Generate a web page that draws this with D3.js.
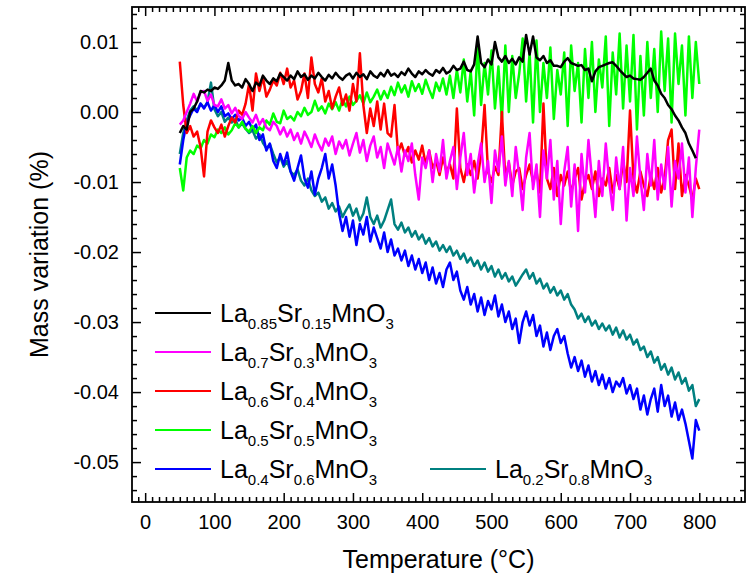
<!DOCTYPE html>
<html>
<head>
<meta charset="utf-8">
<script src="https://cdn.jsdelivr.net/npm/d3@7.9.0/dist/d3.min.js"></script>
<style>
  body { margin: 0; background: #fff; }
  svg { display: block; }
  text { font-family: "Liberation Sans", Arial, sans-serif; fill: #000; }
</style>
</head>
<body>
<div id="chart"></div>
<script>
// Temperature grid (°C): first sample and spacing
const tStart = 50, tStep = 5;

// Mass variation, in units of 1e-4 %
const lsm15 = [
  -30,-20,-25,0,5,15,30,28,32,30,
  35,33,38,45,70,45,38,40,35,47,
  40,30,42,38,52,45,40,48,44,55,
  50,45,52,47,58,50,54,46,52,48,
  56,50,45,53,48,56,50,46,52,55,
  48,56,50,54,47,58,52,49,56,51,
  60,52,55,50,57,53,62,55,50,58,
  54,60,55,52,60,56,63,55,58,66,
  60,62,72,60,58,68,108,70,64,75,
  68,100,78,72,80,70,76,68,78,72,
  110,82,108,78,74,80,70,74,66,66,
  64,72,77,70,68,66,67,60,62,44,
  58,64,66,68,70,71,66,60,55,50,
  52,48,47,46,50,56,62,45,38,26,
  20,10,4,-5,-12,-22,-30,-45,-55,-66
];
const lsm30 = [
  -18,-12,0,12,26,15,28,30,16,25,
  10,8,18,5,10,-2,6,-5,-10,0,
  -8,-15,-4,-18,-10,-22,-26,-14,-20,-32,
  -22,-35,-25,-40,-30,-45,-28,-38,-50,-32,
  -45,-55,-38,-48,-35,-60,-42,-52,-40,-62,
  -45,-30,-58,-40,-70,-48,-35,-65,-50,-80,
  -45,-60,-75,-50,-85,-55,-70,-45,-90,-125,
  -65,-80,-55,-100,-60,-85,-40,-95,-70,-50,
  -110,-65,-30,-90,-60,-115,-75,-45,-100,-70,
  -130,-55,-85,-35,-105,-70,-120,-50,-90,-140,
  -65,-30,-110,-75,-150,-55,-95,-40,-125,-70,
  -160,-85,-50,-135,-75,-170,-60,-115,-40,-95,
  -150,-70,-120,-45,-100,-140,-65,-110,-50,-155,
  -80,-120,-35,-95,-140,-60,-105,-40,-125,-75,
  -110,-50,-135,-70,-95,-45,-115,-65,-150,-80,
  -25
];
const lsm40 = [
  72,10,-30,-20,-35,-28,-50,-92,-28,-12,
  -22,-30,-18,-35,-20,-8,-15,2,-4,12,
  40,2,55,30,50,22,32,45,38,56,
  40,62,35,45,18,30,55,20,78,40,
  28,48,15,30,5,22,35,10,25,2,
  40,15,84,10,-30,5,-20,15,-25,12,
  -30,-35,10,-58,-45,-62,-50,-72,-55,-68,
  -48,-75,-55,-80,-70,-90,-65,-85,-75,-95,
  5,-80,-100,-75,-90,-70,-95,-60,10,-85,
  -100,-78,-90,0,-95,-72,-105,-85,-80,-110,
  -90,-75,-100,-85,-115,12,-95,-110,-80,-120,
  -90,-105,-85,-115,-95,-80,-125,-100,-90,-110,
  -85,-120,-95,-105,-80,-115,-90,-110,-70,-100,
  2,-95,-115,-85,-105,-120,-90,-110,-80,-115,
  -95,-40,-25,-110,-45,-120,-90,-105,-125,-95,
  -110
];
const lsm50 = [
  -80,-112,-65,-55,-60,-48,-52,-40,-45,-32,
  -36,-25,-30,-22,-32,-26,-16,-22,-14,-24,
  -28,-20,-30,-22,-26,-12,-18,-2,-14,-16,
  2,-10,-6,-12,0,-6,6,-4,0,16,
  2,8,-2,12,4,14,2,18,8,22,
  10,16,24,12,28,14,22,32,18,30,
  20,36,24,42,28,38,22,44,30,40,
  26,46,32,20,42,30,48,25,52,20,
  60,28,75,15,58,-5,95,10,70,25,
  88,5,65,-12,95,0,80,20,55,105,
  15,85,-15,102,0,70,20,92,-10,60,
  25,85,-20,95,30,70,-15,90,20,100,
  0,75,35,108,-20,85,25,112,5,95,
  15,110,-25,80,-5,100,20,90,0,115,
  30,105,-15,112,40,95,-5,108,20,100,
  40
];
const lsm60 = [
  -75,-40,-15,-5,5,0,12,5,14,2,
  10,0,8,-6,-2,-10,-4,-12,-8,-20,
  -14,-25,-18,-40,-32,-55,-45,-70,-80,-60,
  -75,-58,-85,-98,-80,-62,-95,-108,-85,-118,
  -95,-80,-60,-95,-75,-105,-145,-170,-150,-178,
  -155,-190,-160,-175,-150,-185,-165,-180,-195,-172,
  -200,-182,-205,-195,-212,-198,-220,-205,-225,-210,
  -230,-215,-240,-222,-245,-230,-250,-225,-215,-240,
  -228,-255,-268,-250,-275,-260,-285,-265,-290,-270,
  -282,-262,-292,-275,-300,-285,-310,-295,-330,-300,
  -285,-305,-290,-320,-305,-335,-315,-340,-320,-310,
  -330,-320,-345,-365,-350,-370,-355,-378,-362,-385,
  -370,-390,-375,-395,-380,-400,-385,-392,-380,-402,
  -390,-410,-395,-425,-405,-432,-410,-395,-428,-390,
  -420,-405,-435,-415,-440,-425,-445,-470,-495,-440,
  -455
];
const lsm80 = [
  -60,-30,-12,2,8,2,12,6,14,42,
  4,-6,0,-14,-8,-15,-10,-22,-16,-24,
  -30,-26,-38,-32,-44,-52,-46,-60,-72,-64,
  -78,-70,-85,-90,-82,-98,-105,-95,-112,-120,
  -115,-128,-122,-138,-130,-142,-135,-150,-140,-132,
  -148,-138,-155,-145,-122,-150,-160,-148,-165,-155,
  -140,-125,-160,-168,-158,-172,-165,-178,-170,-182,
  -175,-188,-180,-192,-185,-198,-190,-200,-192,-205,
  -198,-210,-202,-215,-208,-220,-212,-225,-215,-228,
  -220,-235,-225,-238,-230,-242,-235,-248,-240,-232,
  -225,-238,-230,-245,-238,-252,-245,-258,-250,-262,
  -255,-268,-260,-275,-282,-295,-288,-300,-292,-305,
  -298,-310,-302,-312,-305,-318,-308,-322,-312,-325,
  -318,-332,-325,-340,-335,-350,-342,-358,-350,-368,
  -360,-375,-365,-382,-372,-388,-380,-398,-390,-420,
  -410
];

const laSub = ['0.85', '0.7', '0.6', '0.5', '0.4', '0.2'];
const srSub = ['0.15', '0.3', '0.4', '0.5', '0.6', '0.8'];
const colors = ['#000000', '#ff00ff', '#ff0000', '#00ff00', '#0000ff', '#008080'];
const series = [lsm15, lsm30, lsm40, lsm50, lsm60, lsm80];

const xMajor = [0, 100, 200, 300, 400, 500, 600, 700, 800];
const yMajor = [0.01, 0, -0.01, -0.02, -0.03, -0.04, -0.05];
const yLabels = ['0.01', '0.00', '-0.01', '-0.02', '-0.03', '-0.04', '-0.05'];

const width = 750, height = 576;
const margin = { top: 7, right: 5, bottom: 74, left: 132 };

const svg = d3.select('#chart').append('svg')
  .attr('width', width).attr('height', height);

const x = d3.scaleLinear().domain([-19, 866]).range([margin.left, width - margin.right]);
const y = d3.scaleLinear().domain([-0.0557, 0.015]).range([height - margin.bottom, margin.top]);

const xMinor = d3.range(-10, 866, 10).filter(d => d % 100 !== 0);
const yMinor = d3.range(-0.054, 0.0145, 0.002).filter(d => Math.abs(Math.round(d * 100) - d * 100) > 1e-6);

svg.append('defs').append('clipPath').attr('id', 'plot')
  .append('rect')
  .attr('x', margin.left).attr('y', margin.top)
  .attr('width', width - margin.left - margin.right)
  .attr('height', height - margin.top - margin.bottom);

// Curves: teal drawn first, black on top
const line = d3.line()
  .x((d, i) => x(tStart + i * tStep))
  .y(d => y(d / 10000));

const curves = svg.append('g').attr('clip-path', 'url(#plot)');
d3.range(series.length).reverse().forEach(k => {
  curves.append('path')
    .datum(series[k])
    .attr('d', line)
    .attr('fill', 'none')
    .attr('stroke', colors[k])
    .attr('stroke-width', 2.5)
    .attr('stroke-linejoin', 'round');
});

// Axes, ticks pointing inward on all four sides
const axisY0 = height - margin.bottom, axisX0 = margin.left;
const axisX1 = width - margin.right, axisY1 = margin.top;

function ticks(axis, transform, values, size, fmt) {
  const g = svg.append('g').attr('transform', transform)
    .call(axis.tickValues(values).tickSizeInner(-size).tickSizeOuter(0)
      .tickPadding(13).tickFormat(fmt));
  g.select('.domain').remove();
  g.selectAll('line').attr('stroke', '#000').attr('stroke-width', 1.5);
  g.selectAll('text').attr('font-size', 20)
    .attr('font-family', '"Liberation Sans", Arial, sans-serif');
  return g;
}

ticks(d3.axisBottom(x), `translate(0,${axisY0})`, xMajor, 9, d => d);
ticks(d3.axisBottom(x), `translate(0,${axisY0})`, xMinor, 5, '');
ticks(d3.axisTop(x), `translate(0,${axisY1})`, xMajor, 9, '');
ticks(d3.axisTop(x), `translate(0,${axisY1})`, xMinor, 5, '');
ticks(d3.axisLeft(y), `translate(${axisX0},0)`, yMajor, 9, (d, i) => yLabels[i]);
ticks(d3.axisLeft(y), `translate(${axisX0},0)`, yMinor, 5, '');
ticks(d3.axisRight(y), `translate(${axisX1},0)`, yMajor, 9, '');
ticks(d3.axisRight(y), `translate(${axisX1},0)`, yMinor, 5, '');

svg.append('rect')
  .attr('x', axisX0).attr('y', axisY1)
  .attr('width', axisX1 - axisX0).attr('height', axisY0 - axisY1)
  .attr('fill', 'none').attr('stroke', '#000').attr('stroke-width', 1.8);

// Axis titles
svg.append('text')
  .attr('x', (axisX0 + axisX1) / 2).attr('y', 568)
  .attr('text-anchor', 'middle').attr('font-size', 25)
  .text('Temperature (°C)');

svg.append('text')
  .attr('transform', `translate(48,${(axisY0 + axisY1) / 2}) rotate(-90)`)
  .attr('text-anchor', 'middle').attr('font-size', 25)
  .text('Mass variation (%)');

// Legend
const legendPos = [
  [155, 313], [155, 352], [155, 391], [155, 430], [155, 469], [430, 469]
];
const legend = svg.append('g');
legendPos.forEach(([lx, ly], k) => {
  legend.append('line')
    .attr('x1', lx).attr('x2', lx + 56)
    .attr('y1', ly).attr('y2', ly)
    .attr('stroke', colors[k]).attr('stroke-width', 2);
  const t = legend.append('text')
    .attr('x', lx + 65).attr('y', ly + 9)
    .attr('font-size', 25);
  t.append('tspan').text('La');
  t.append('tspan').attr('dy', 7).attr('font-size', 15).text(laSub[k]);
  t.append('tspan').attr('dy', -7).text('Sr');
  t.append('tspan').attr('dy', 7).attr('font-size', 15).text(srSub[k]);
  t.append('tspan').attr('dy', -7).text('MnO');
  t.append('tspan').attr('dy', 7).attr('font-size', 15).text('3');
});
</script>
</body>
</html>
